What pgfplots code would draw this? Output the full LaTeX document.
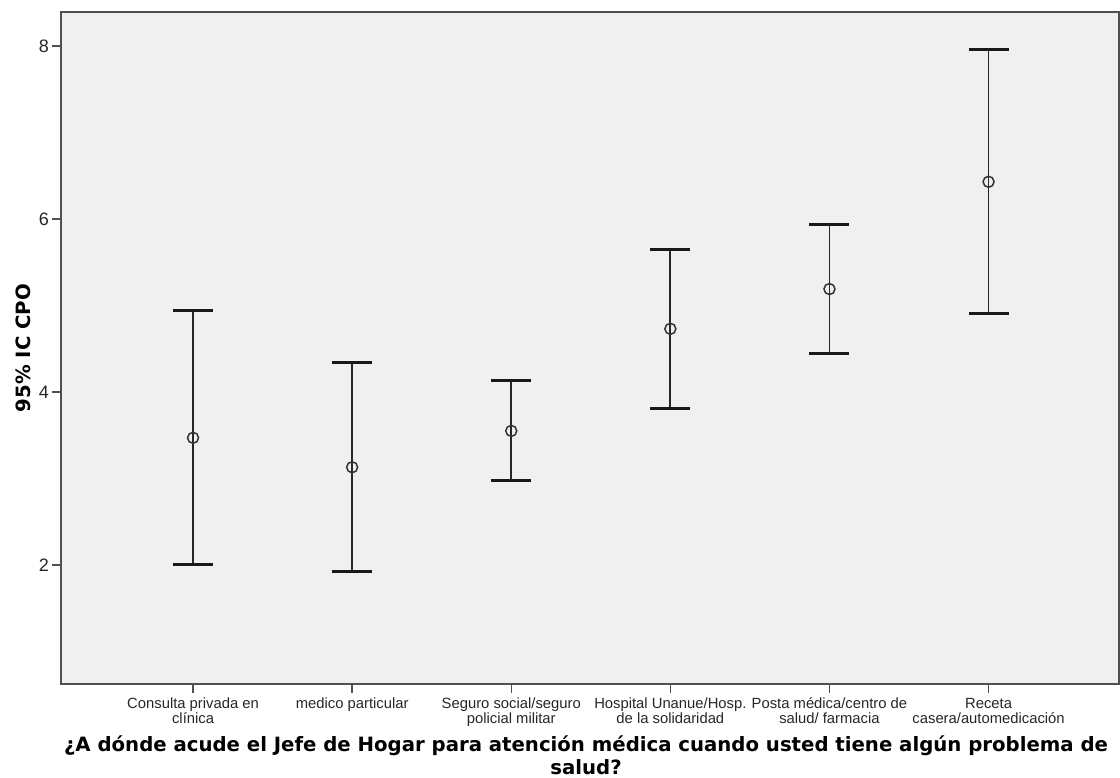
\documentclass[border=0pt]{standalone}
\usepackage{pgfplots}
\pgfplotsset{compat=1.18}
\usepackage{fontspec}
\setmainfont{Liberation Sans}
\newfontfamily\titlefont{DejaVu Sans}
\definecolor{bgc}{HTML}{F0F0F0}
\definecolor{frame}{HTML}{505050}
\newcommand{\hs}{\vphantom{Éé}}
\begin{document}
\begin{tikzpicture}
\useasboundingbox (-61pt,-94pt) rectangle (1059pt,684pt);
\begin{axis}[
  at={(0,0)}, anchor=south west,
  scale only axis, width=1058pt, height=672pt,
  xmin=-0.83, xmax=5.82, ymin=0.624, ymax=8.393,
  axis background/.style={fill=bgc},
  axis line style={draw=frame, line width=1.8pt},
  xtick={0,1,2,3,4,5},
  xticklabels={{\hs Consulta privada en\\clínica},{\hs medico particular},{\hs Seguro social/seguro\\policial militar},{\hs Hospital Unanue/Hosp.\\de la solidaridad},{\hs Posta médica/centro de\\salud/ farmacia},{\hs Receta\\casera/automedicación}},
  xticklabel style={align=center, font=\fontsize{14.8}{15}\selectfont, inner sep=0pt, yshift=-2pt, text=black!85},
  ytick={2,4,6,8},
  yticklabel style={font=\fontsize{18}{19}\selectfont, inner sep=0pt, xshift=-3pt, text=black!85},
  /pgf/number format/assume math mode=true,
  tick align=outside, xtick pos=bottom, ytick pos=left,
  major tick length=9pt,
  tick style={draw=frame, line width=1.4pt},
  every axis y label/.style={at={(axis description cs:0,0.5)}, xshift=-38pt, rotate=90, anchor=center, font=\titlefont\bfseries\fontsize{19.7}{21}\selectfont},
  ylabel={95\% IC CPO},
  every axis x label/.style={at={(axis description cs:0.5,0)}, xshift=-4pt, yshift=-71pt, anchor=center, align=center, font=\titlefont\bfseries\fontsize{19.7}{23}\selectfont},
  xlabel={¿A dónde acude el Jefe de Hogar para atención médica cuando usted tiene algún problema de\\salud?},
]
\addplot[only marks, mark=o, mark size=5.5pt, mark options={line width=1.5pt, draw=black!80},
  error bars/.cd, y dir=both, y explicit,
  error bar style={line width=1.8pt, black!85},
  error mark options={rotate=90, mark size=20pt, line width=3pt, black!90}]
  table[x=x, y=y, y error plus=ep, y error minus=em] {
x y ep em
0 3.47 1.47 1.47
1 3.13 1.21 1.21
2 3.55 0.58 0.57
3 4.73 0.92 0.92
4 5.19 0.75 0.74
5 6.43 1.53 1.52
};
\end{axis}
\end{tikzpicture}
\end{document}
